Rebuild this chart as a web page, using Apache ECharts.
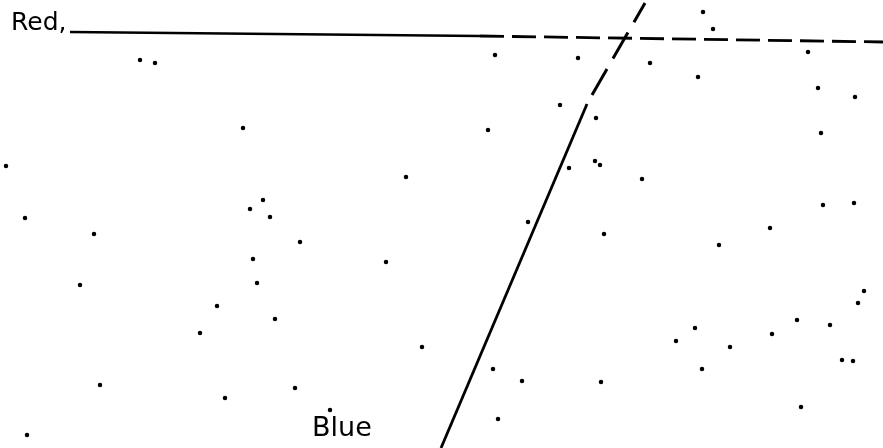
<!DOCTYPE html>
<html>
<head>
<meta charset="utf-8">
<script src="https://cdn.jsdelivr.net/npm/echarts@6/dist/echarts.min.js"></script>
<style>
  html, body { margin: 0; padding: 0; background: #fff; }
  #chart { width: 883px; height: 448px; }
</style>
</head>
<body>
<div id="chart"></div>
<script>
// line endpoints, in picture units (x right, y down)
const redSolid = [[70, 32], [480, 36]]
const redDashed = [[480, 36], [883, 42]]
const blueSolid = [[441, 448], [587, 104]]
const blueDashed = [[592, 95], [645, 3]]

// scan specks
const specks = [
  [140, 60], [155, 63], [495, 55], [578, 58], [650, 63], [698, 77], [808, 52],
  [818, 88], [855, 97], [703, 12], [713, 29], [560, 105], [596, 118], [595, 161],
  [569, 168], [528, 222], [604, 234], [243, 128], [6, 166], [406, 177], [263, 200],
  [250, 209], [270, 217], [25, 218], [94, 234], [300, 242], [386, 262], [253, 259],
  [80, 285], [257, 283], [217, 306], [275, 319], [200, 333], [422, 347], [821, 133],
  [642, 179], [600, 165], [719, 245], [823, 205], [854, 203], [770, 228], [864, 291],
  [858, 303], [830, 325], [797, 320], [772, 334], [730, 347], [702, 369], [695, 328],
  [676, 341], [493, 369], [522, 381], [601, 382], [498, 419], [842, 360], [853, 361],
  [801, 407], [100, 385], [225, 398], [295, 388], [330, 410], [27, 435], [488, 130]
]

const chart = echarts.init(document.getElementById('chart'))

chart.setOption({
  backgroundColor: '#fff',
  animation: false,
  grid: { left: 0, right: 0, top: 0, bottom: 0 },
  xAxis: { type: 'value', min: 0, max: 883, show: false },
  yAxis: { type: 'value', min: 0, max: 448, inverse: true, show: false },
  series: [
    { type: 'line', data: redSolid, symbol: 'none', lineStyle: { color: '#000', width: 2.6 } },
    { type: 'line', data: redDashed, symbol: 'none', lineStyle: { color: '#000', width: 2.8, type: [24, 8] } },
    { type: 'line', data: blueSolid, symbol: 'none', lineStyle: { color: '#000', width: 2.8 } },
    { type: 'line', data: blueDashed, symbol: 'none', lineStyle: { color: '#000', width: 3, type: [30, 12] } },
    {
      type: 'scatter',
      data: specks,
      symbolSize: 4.5,
      itemStyle: { color: '#000', opacity: 1 }
    }
  ],
  graphic: [
    {
      type: 'text',
      left: 11,
      top: 11,
      style: { text: 'Red,', fontSize: 25, fontFamily: 'DejaVu Sans', fill: '#000' }
    },
    {
      type: 'text',
      left: 312,
      top: 415,
      style: { text: 'Blue', fontSize: 27, fontFamily: 'DejaVu Sans', fill: '#000' }
    }
  ]
})
</script>
</body>
</html>
